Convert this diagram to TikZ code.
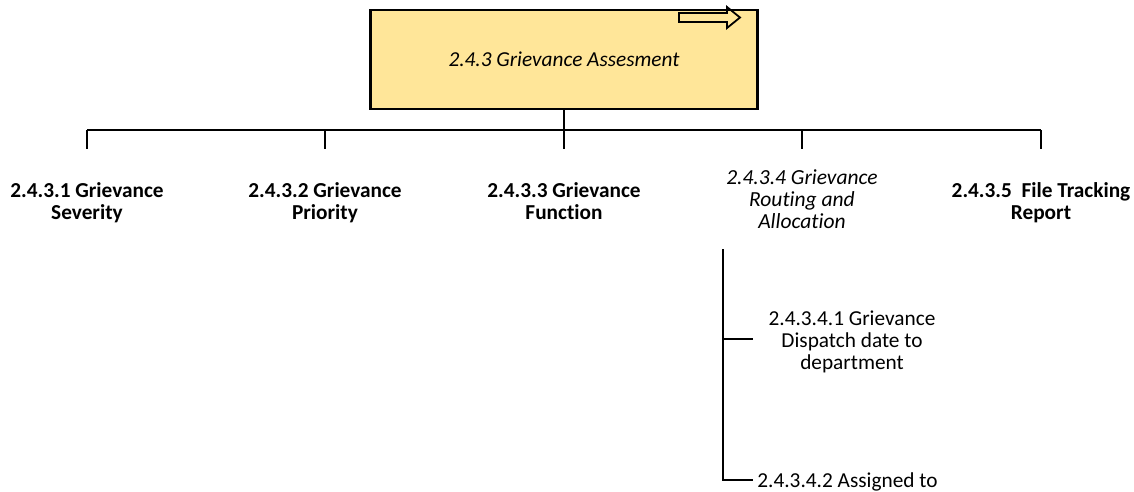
\documentclass[tikz,border=0pt]{standalone}
\usepackage{fontspec}
\setmainfont{Carlito}[Ligatures=NoCommon]
\definecolor{boxyellow}{RGB}{255,230,153}
\begin{document}
\begin{tikzpicture}[x=1pt,y=-1pt,line width=2.8pt,
    lbl/.style={align=center,inner sep=0pt,anchor=north,font=\fontsize{21.3}{22}\selectfont\bfseries},
    sublbl/.style={align=center,inner sep=0pt,font=\fontsize{21.3}{22}\selectfont}]
    \useasboundingbox (0,0) rectangle (1134,491);
    %% main box
    \node[draw,fill=boxyellow,minimum width=387pt,minimum height=99pt,inner sep=0pt,
        font=\fontsize{21.3}{24}\selectfont\itshape] (A) at (564,59.5) {2.4.3 Grievance Assesment};
    \draw[line width=1.8pt] (679,13) -- (727,13) -- (727,7) -- (740,17.5) -- (727,28) -- (727,22) -- (679,22) -- cycle;
    %% second level
    \node[lbl] (S1) at (87,181) {2.4.3.1 Grievance\\Severity};
    \node[lbl] (S2) at (325,181) {2.4.3.2 Grievance\\Priority};
    \node[lbl] (S3) at (564,181) {2.4.3.3 Grievance\\Function};
    \node[lbl,font=\fontsize{21.5}{22}\selectfont\itshape] (S4) at (802,168) {2.4.3.4 Grievance\\Routing and\\Allocation};
    \node[lbl] (S5) at (1041,181) {2.4.3.5~ File Tracking\\Report};
    %% bus
    \foreach \n/\x in {1/87,2/325,3/564,4/802,5/1041} {
        \coordinate (b\n) at (\x,130);
        \coordinate (d\n) at (\x,149);
    }
    \draw (b1) -- (b5);
    \draw (A.south) -- (d3);
    \foreach \n in {1,2,4,5} \draw (b\n) -- (d\n);
    %% third level
    \node[sublbl,anchor=north] (Q1) at (852,309) {2.4.3.4.1 Grievance\\Dispatch date to\\department};
    \node[sublbl,anchor=base west] (Q2) at (756,487) {2.4.3.4.2 Assigned to};
    \coordinate (R) at (723,249);
    \coordinate (j1) at (723,339);
    \coordinate (k1) at (753,339);
    \coordinate (k2) at (753,480);
    \draw (R) |- (k2);
    \draw (j1) -- (k1);
\end{tikzpicture}
\end{document}
